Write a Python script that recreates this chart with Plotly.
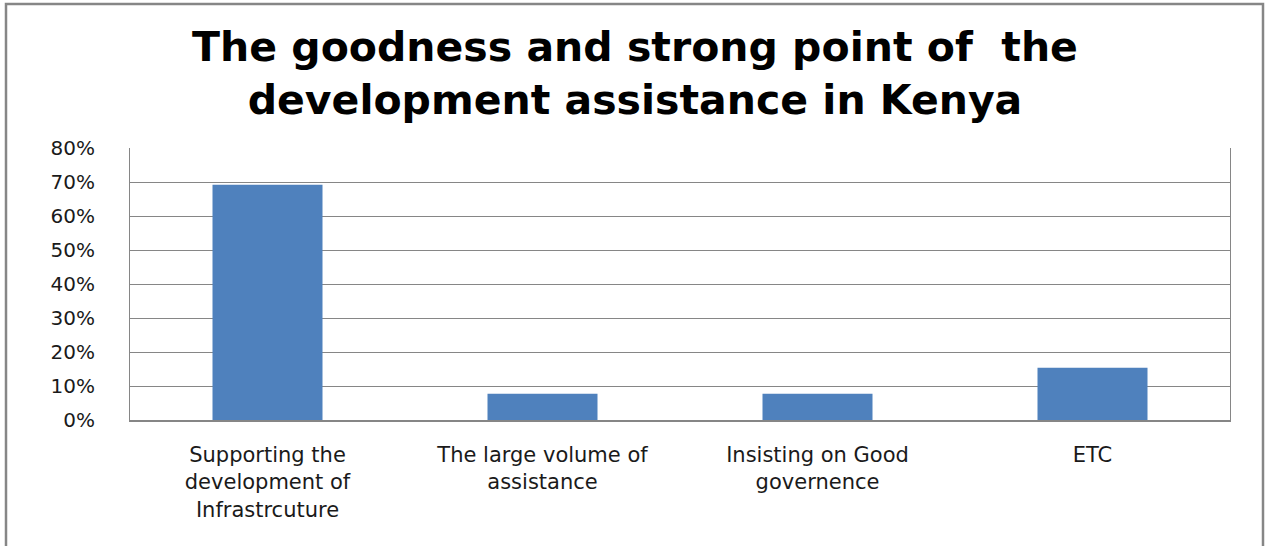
import plotly.graph_objects as go

categories = ["Supporting the<br>development of<br>Infrastrcuture",
              "The large volume of<br>assistance",
              "Insisting on Good<br>governence",
              "ETC"]
values = [0.692, 0.077, 0.077, 0.154]
y_ticks = [0, 0.1, 0.2, 0.3, 0.4, 0.5, 0.6, 0.7, 0.8]
y_tick_labels = ["0%", "10%", "20%", "30%", "40%", "50%", "60%", "70%", "80%"]

W, H = 1270, 546
L, R, T, B = 130, 40, 148, 126
pw, ph = W - L - R, H - T - B

def px_x(x):
    return (x - L) / pw

def px_y(y):
    return (H - B - y) / ph

fig = go.Figure(go.Bar(x=categories, y=values, marker=dict(color="#4F81BD", line=dict(width=0))))

fig.update_layout(
    width=W, height=H,
    margin=dict(l=L, r=R, t=T, b=B),
    paper_bgcolor="white", plot_bgcolor="white",
    bargap=0.6,
    showlegend=False,
    title=dict(text="The goodness and strong point of  the<br>development assistance in Kenya",
               x=0.5, xanchor="center", y=0.888, yanchor="middle",
               font=dict(family="DejaVu Sans", size=41, color="black", weight="bold")),
    font=dict(family="DejaVu Sans", color="#1a1a1a"),
)
fig.update_xaxes(showline=True, linecolor="#868686", linewidth=1.5, mirror=False,
                 tickfont=dict(size=21, color="#1a1a1a"), ticks="", ticklabelstandoff=15)
fig.update_yaxes(range=[0, 0.8], tickvals=y_ticks, ticktext=y_tick_labels,
                 showgrid=True, gridcolor="#868686", gridwidth=1,
                 showline=True, linecolor="#868686", linewidth=1, mirror=True,
                 zeroline=False, tickfont=dict(size=20, color="#1a1a1a"), ticks="",
                 ticklabelstandoff=30)
fig.add_shape(type="rect", xref="paper", yref="paper",
              x0=px_x(6), x1=px_x(1263), y0=px_y(560), y1=px_y(4),
              line=dict(color="#868686", width=2.5), layer="below")

fig.write_html("out.html")
